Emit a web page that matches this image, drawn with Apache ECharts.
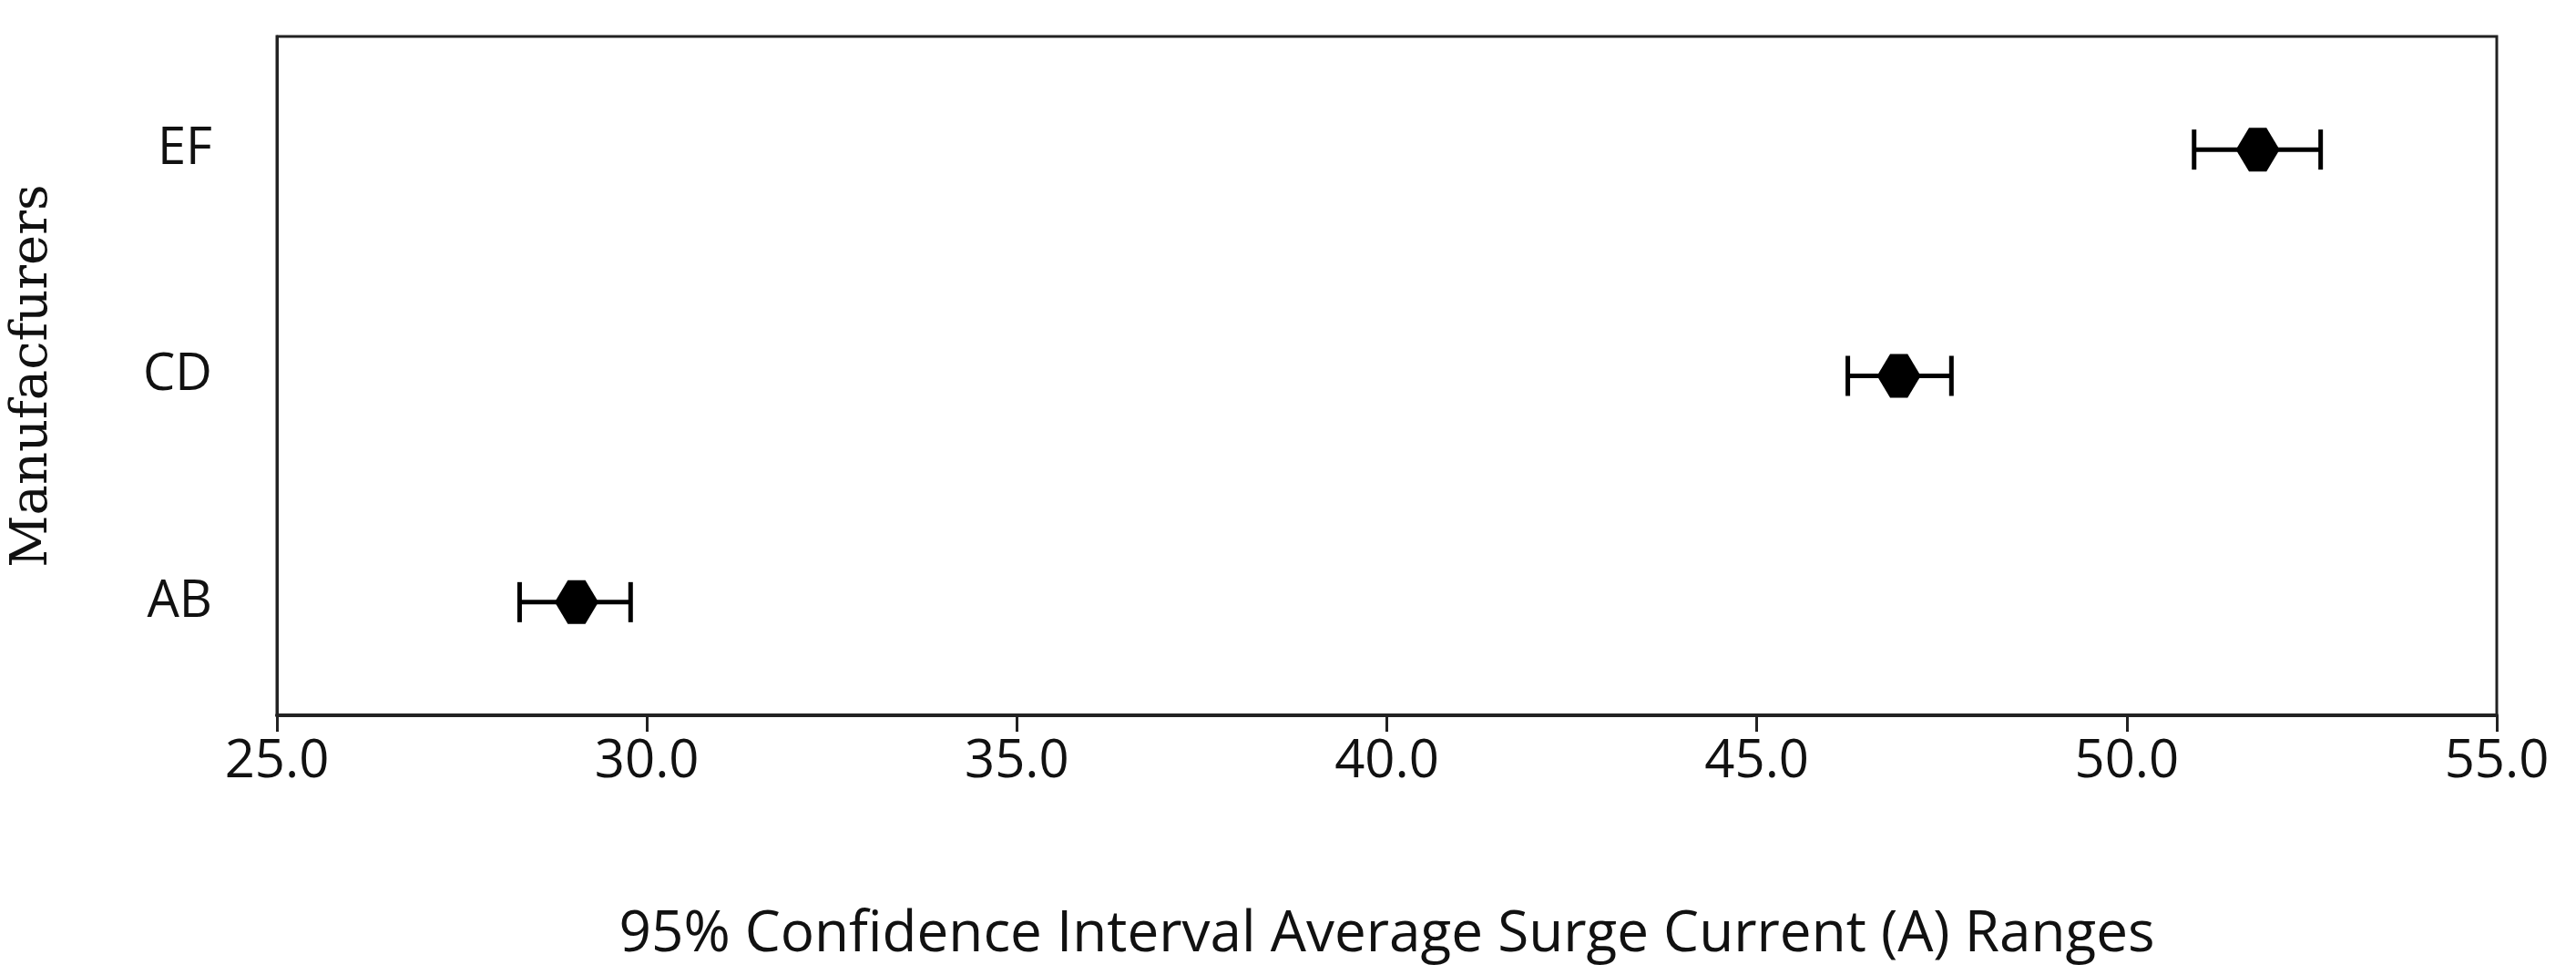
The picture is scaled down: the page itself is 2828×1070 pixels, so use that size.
<!DOCTYPE html>
<html><head><meta charset="utf-8">
<script src="https://cdn.jsdelivr.net/npm/echarts@6/dist/echarts.min.js"></script>
<style>html,body{margin:0;padding:0;background:#fff}#c{width:2828px;height:1070px}</style>
</head><body><div id="c"></div>
<script>
const categories = ['AB', 'CD', 'EF'];
const means = [29.05, 46.92, 51.77];
const lows = [28.28, 46.23, 50.91];
const highs = [29.78, 47.63, 52.62];
const xTicks = [25, 30, 35, 40, 45, 50, 55];

const chart = echarts.init(document.getElementById('c'));
const font = '"Open Sans", sans-serif';
chart.setOption({
  animation: false,
  backgroundColor: '#fff',
  grid: {left: 298, right: 87, top: 40, bottom: 285, show: true, borderColor: '#222', borderWidth: 3, backgroundColor: 'transparent'},
  xAxis: {
    type: 'value', min: xTicks[0], max: xTicks[xTicks.length - 1], interval: 5,
    axisLine: {show: true, lineStyle: {color: '#222', width: 4}},
    axisTick: {show: true, length: 18, lineStyle: {color: '#222', width: 3}},
    splitLine: {show: false},
    axisLabel: {fontFamily: font, fontSize: 58, color: '#111', margin: 22, formatter: v => v.toFixed(1)},
    name: '95% Confidence Interval Average Surge Current (A) Ranges',
    nameLocation: 'middle', nameGap: 210,
    nameTextStyle: {fontFamily: font, fontSize: 62, color: '#111'}
  },
  yAxis: {
    type: 'category', data: categories,
    axisLine: {show: true, lineStyle: {color: '#222', width: 3}},
    axisTick: {show: false},
    axisLabel: {fontFamily: font, fontSize: 56, color: '#111', margin: 71},
    name: 'Manufacfurers', nameLocation: 'middle', nameGap: 240, nameRotate: 90,
    nameTextStyle: {fontFamily: '"DejaVu Serif", serif', fontSize: 56, color: '#111'}
  },
  series: [
    {
      type: 'custom',
      data: categories.map((c, i) => [i, lows[i], highs[i]]),
      renderItem: (params, api) => {
        const i = api.value(0);
        const a = api.coord([api.value(1), i]);
        const b = api.coord([api.value(2), i]);
        const h = 22;
        const st = {stroke: '#000', lineWidth: 5};
        return {type: 'group', children: [
          {type: 'line', shape: {x1: a[0], y1: a[1], x2: b[0], y2: b[1]}, style: st},
          {type: 'line', shape: {x1: a[0], y1: a[1] - h, x2: a[0], y2: a[1] + h}, style: st},
          {type: 'line', shape: {x1: b[0], y1: b[1] - h, x2: b[0], y2: b[1] + h}, style: st}
        ]};
      },
      encode: {x: [1, 2], y: 0}, z: 2
    },
    {
      type: 'scatter', data: means.map((m, i) => [m, categories[i]]),
      symbol: 'path://M3,0 L7,0 L10,5 L7,10 L3,10 L0,5 Z', symbolSize: 48,
      itemStyle: {color: '#000', opacity: 1}, z: 3
    }
  ]
});
</script></body></html>
